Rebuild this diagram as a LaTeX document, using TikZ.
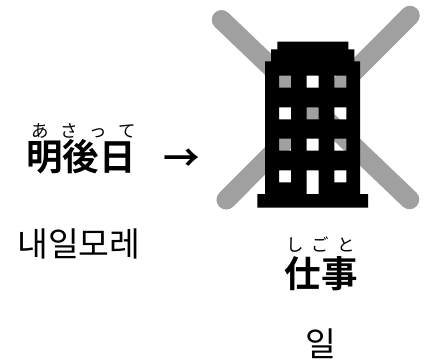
\documentclass[tikz,border=0pt]{standalone}
\usepackage{fontspec}
\newfontfamily\jpb[BoldFont={Noto Sans CJK JP Bold}]{Noto Sans CJK JP}
\newfontfamily\krn{Noto Sans CJK KR}
\newcommand{\rb}[2]{\makebox[#1]{#2}}
\tikzset{
  cross/.style={draw=crossgrey,line width=19.5pt,line cap=round},
  kanji/.style={inner sep=0pt,font=\jpb\bfseries\fontsize{36.5}{36.5}\selectfont},
  kana/.style={inner sep=0pt,font=\jpb\fontsize{17.5}{17.5}\selectfont},
  hangul/.style={inner sep=0pt,font=\krn\fontsize{33.5}{33.5}\selectfont},
}
\definecolor{crossgrey}{HTML}{A0A0A0}
\begin{document}
\begin{tikzpicture}[x=1pt,y=-1pt]
\useasboundingbox (0,0) rectangle (428,361);
\fill[white] (0,0) rectangle (428,361);
% cross
\draw[cross] (221.5,19.8) -- (409.5,199.5);
\draw[cross] (410,15.5) -- (226.2,199.8);
% building with window holes
\fill[black,even odd rule]
  (277.3,41.7) -- (348.3,41.7) -- (348.3,49.5) -- (354.3,49.5) -- (354.3,61.3) -- (360,61.3)
  -- (360,194) -- (368,194) -- (368,207.5) -- (257.3,207.5) -- (257.3,194) -- (265,194)
  -- (265,61.3) -- (271,61.3) -- (271,49.5) -- (277.3,49.5) -- cycle
  (279,75.7) rectangle (291,87.7) (306.7,75.7) rectangle (318.7,87.7) (334.3,75.7) rectangle (346.3,87.7)
  (279,107.3) rectangle (291,119.3) (306.7,107.3) rectangle (318.7,119.3) (334.3,107.3) rectangle (346.3,119.3)
  (279,138.7) rectangle (291,150.7) (306.7,138.7) rectangle (318.7,150.7) (334.3,138.7) rectangle (346.3,150.7)
  (279,170.3) rectangle (291,182.3) (334.3,170.3) rectangle (346.3,182.3)
  (306.7,170.3) rectangle (318.7,194);
% texts
\node[kana] (kanaA) at (83.5,130.5) {\rb{29pt}{あ}\rb{29pt}{さ}\rb{29pt}{っ}\rb{29pt}{て}};
\node[kanji] (wordA) at (81,157) {明後日};
\node[kanji] (arrow) at (181.5,160.5) {→};
\node[hangul] (koA) at (79,244) {내일모레};
\node[kana] (kanaB) at (320.5,245) {\rb{25.5pt}{し}\rb{25.5pt}{ご}\rb{25.5pt}{と}};
\node[kanji] (wordB) at (321,273.5) {仕事};
\node[hangul] (koB) at (321,344) {일};
\end{tikzpicture}
\end{document}
